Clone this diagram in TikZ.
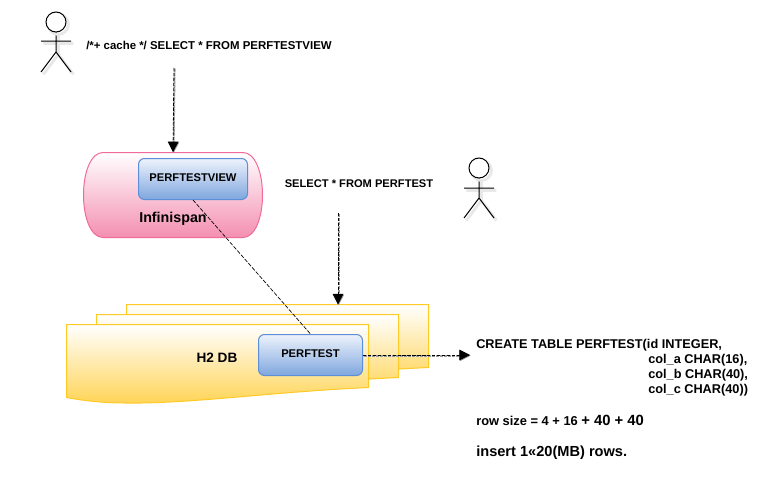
\documentclass[tikz,border=0pt]{standalone}
\usepackage{fontspec}
\setmainfont{Liberation Sans}
\usetikzlibrary{arrows.meta,positioning}
\definecolor{pinkline}{HTML}{F06A9A}
\definecolor{pinkfill}{HTML}{F48FB1}
\definecolor{blueline}{HTML}{5B8FD9}
\definecolor{bluetop}{HTML}{EDF3FC}
\definecolor{bluebot}{HTML}{7FA6DE}
\definecolor{pageline}{HTML}{FFC926}
\definecolor{pagefill}{HTML}{FFD455}
\tikzset{
  sqltext/.style={font=\bfseries\fontsize{8.5}{11}\selectfont,inner sep=0pt},
  ddltext/.style={font=\bfseries\fontsize{9.55}{11}\selectfont,inner sep=0pt},
  table/.style={draw=blueline,rounded corners=4.5pt,top color=bluetop,bottom color=bluebot,
    text=black,font=\bfseries\fontsize{8.4}{11}\selectfont,inner sep=0pt,line width=.75pt},
  page/.style={draw=pageline,top color=white,bottom color=pagefill,line width=.75pt},
  flow/.style={-{Triangle[width=8pt,length=8pt]},dash pattern=on 2.5pt off 1.2pt,line width=.6pt,
    preaction={draw=black!40,dash pattern=on 2.5pt off .5pt,line width=1.3pt,transform canvas={xshift=.5pt,yshift=-.5pt}}},
  link/.style={dash pattern=on 3pt off 1.2pt,line width=.5pt},
  stick/.style={line width=.75pt,
    preaction={draw=black!9,line width=2.2pt,transform canvas={xshift=1.8pt,yshift=-1.8pt}}}
}
\begin{document}
\begin{tikzpicture}[x=.75pt,y=-.75pt,>=Stealth]
\useasboundingbox (0,0) rectangle (775,489);
% actors
\draw[stick] (56,32)--(56,52) (41,41)--(71,41) (41,72)--(56,52)--(71,72);
\draw[stick,fill=white] (56,22) circle (7.5pt);
\draw[stick] (479,178)--(479,198) (464,188)--(494,188) (464,218)--(479,198)--(494,218);
\draw[stick,fill=white] (479,168) circle (7.5pt);
% db pages
\foreach \dx/\dy in {60/-20,30/-10,0/0}
  \draw[page,shift={(\dx,\dy)}] (66.5,324.5)--(368.5,324.5)--(368.5,387.5)
    .. controls (270,392) and (190,404) .. (125,403) .. controls (105,403) and (85,401) .. (66.5,397.5)--cycle;
\node[inner sep=0pt,font=\bfseries\fontsize{10.2}{11}\selectfont] (h2db) at (217,357.5) {H2 DB};
\node[table,minimum width=78pt,minimum height=30.75pt] (perftest) at (310.5,355) {\raisebox{1.5pt}{PERFTEST}};
% cache
\draw[draw=pinkline,top color=white,bottom color=pinkfill,line width=.75pt] (103,152.5)--(243,152.5)
  .. controls (255,152.5) and (262.5,172) .. (262.5,195) .. controls (262.5,218) and (255,237.5) .. (243,237.5)
  --(103,237.5) .. controls (91,237.5) and (83.5,218) .. (83.5,195) .. controls (83.5,172) and (91,152.5) .. (103,152.5)--cycle;
\node[minimum width=134.25pt,minimum height=63.75pt,inner sep=0pt] (infinispan) at (173,195) {};
\node[inner sep=0pt,font=\bfseries\fontsize{10.7}{11}\selectfont] (infinispanlabel) at (173,219) {Infinispan};
\node[table,minimum width=81.75pt,minimum height=30.75pt] (perftestview) at (193,179) {\raisebox{1.5pt}{PERFTESTVIEW}};
% queries
\node[sqltext,anchor=west,font=\bfseries\fontsize{8.57}{11}\selectfont] (query1) at (86,45.5) {/*+ cache */ SELECT * FROM PERFTESTVIEW};
\node[sqltext,anchor=west,font=\bfseries\fontsize{8.35}{11}\selectfont] (query2) at (284.5,183.5) {SELECT * FROM PERFTEST};
\coordinate (q1) at (174,68);
\coordinate (q2) at (338,213);
\coordinate (pagetop) at (338,304.5);
\coordinate (ddl) at (470,355);
\draw[flow] (q1)--(infinispan.north);
\draw[flow] (q2)--(pagetop);
\draw[link] (perftestview.south)--(perftest.north);
\draw[flow] (perftest.east)--(ddl);
% table definition
\node[ddltext,anchor=west] (create) at (476,345.5) {CREATE TABLE PERFTEST(id INTEGER,};
\node[ddltext,anchor=west] (cola) at (648,360.5) {col\_a CHAR(16),};
\node[ddltext,anchor=west] (colb) at (648,375.5) {col\_b CHAR(40),};
\node[ddltext,anchor=west] (colc) at (648,390.5) {col\_c CHAR(40))};
\node[sqltext,anchor=west,font=\bfseries\fontsize{9.65}{11}\selectfont] (rowsize) at (476,420.5) {row size = 4 + 16 {\fontsize{11.1}{11}\selectfont + 40 + 40}};
\node[ddltext,anchor=west,font=\bfseries\fontsize{10.95}{11}\selectfont] (insert) at (476,452.5) {insert 1«20(MB) rows.};
\end{tikzpicture}
\end{document}
